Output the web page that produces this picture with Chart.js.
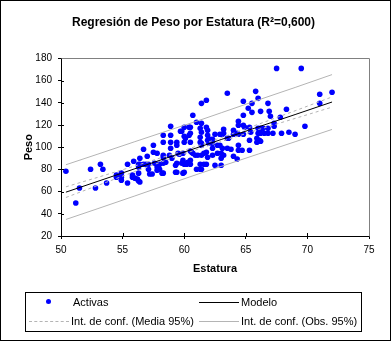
<!DOCTYPE html>
<html>
<head>
<meta charset="utf-8">
<script src="https://cdn.jsdelivr.net/npm/chart.js@4.4.1/dist/chart.umd.min.js"></script>
<style>
  html, body { margin: 0; padding: 0; background: #fff; }
  #wrap { position: relative; width: 391px; height: 341px; }
  #legend {
    position: absolute; left: 25px; top: 292px; width: 335px; height: 38px;
    border: 1px solid #000; font-family: "Liberation Sans", Arial, sans-serif; font-size: 11px;
  }
  #legend ul { list-style: none; margin: 0; padding: 0; }
</style>
</head>
<body>
<div id="wrap">
  <canvas id="reg-chart" width="391" height="341"></canvas>
  <div id="legend"><ul></ul></div>
</div>
<script>
// Observed points (Estatura, Peso)
const heights = [
  50.4, 51.5, 51.2, 52.4, 52.8, 53.2, 53.4, 53.7, 54.5, 54.5, 54.9, 54.9, 54.9, 55.4, 55.4, 55.8,
  55.8, 55.9, 56.0, 56.2, 56.3, 56.4, 56.3, 56.4, 56.3, 56.4, 56.3, 56.7, 56.7, 56.9, 57.1, 57.0,
  57.1, 57.2, 57.4, 57.5, 57.5, 57.8, 57.6, 57.8, 58.0, 57.8, 58.0, 58.3, 58.3, 58.3, 58.3, 58.3,
  58.4, 58.5, 58.8, 58.9, 58.9, 58.9, 58.9, 59.0, 59.3, 59.4, 59.3, 59.4, 59.4, 59.4, 59.5, 59.6,
  59.7, 59.8, 60.0, 59.9, 60.0, 60.0, 60.0, 60.1, 60.0, 59.8, 60.4, 60.4, 60.4, 58.3, 57.8, 57.9,
  58.2, 63.5, 65.8, 66.0, 61.8, 61.4, 64.8, 65.5, 66.8, 60.7, 61.0, 64.8, 65.2, 65.5, 66.2, 66.9,
  67.0, 67.8, 68.3, 60.5, 60.5, 61.4, 61.8, 61.9, 61.3, 61.4, 61.3, 60.5, 61.3, 61.4, 61.4, 61.9,
  61.9, 62.1, 62.3, 62.0, 62.3, 62.5, 62.9, 63.1, 63.2, 63.2, 63.5, 63.6, 64.0, 64.0, 64.3, 64.4,
  64.4, 64.4, 64.8, 64.9, 64.8, 65.3, 65.4, 65.3, 65.9, 66.1, 65.9, 66.2, 66.2, 66.4, 66.0, 66.2,
  66.5, 66.8, 66.8, 67.3, 67.3, 67.2, 67.9, 68.5, 69.0, 69.8, 59.9, 59.9, 60.0, 60.5, 60.6, 60.7,
  60.9, 60.5, 60.3, 60.5, 60.2, 61.0, 61.3, 61.4, 61.3, 61.6, 61.8, 61.1, 61.4, 61.6, 61.8, 61.9,
  62.3, 62.3, 62.5, 63.0, 62.7, 62.9, 63.1, 63.5, 63.8, 62.7, 63.0, 63.2, 63.0, 64.0, 64.3, 64.4,
  64.7, 65.3, 64.4, 67.5, 69.5, 71.0, 72.0, 71.0, 66.0,
];
const weights = [
  78.4, 63.2, 49.7, 80.2, 63.2, 84.7, 80.2, 67.7, 74.9, 73.0, 76.6, 73.0, 70.3, 84.7, 67.7, 74.9,
  73.0, 87.4, 72.1, 71.2, 69.5, 68.6, 84.7, 84.7, 82.1, 90.1, 76.6, 98.2, 84.7, 84.7, 84.7, 91.9,
  80.2, 75.8, 75.8, 101.8, 95.5, 94.6, 85.6, 84.7, 84.7, 79.3, 80.2, 110.7, 104.5, 92.8, 85.6, 76.6,
  86.5, 86.5, 92.8, 118.9, 110.7, 104.5, 99.1, 90.1, 83.8, 85.6, 77.5, 77.5, 104.5, 101.8, 94.6, 93.7,
  114.4, 85.6, 85.6, 76.6, 77.5, 117.9, 109.9, 108.1, 104.5, 114.4, 110.7, 117.9, 85.6, 91.0, 82.1, 81.1,
  76.6, 148.6, 150.3, 144.0, 142.3, 139.5, 141.4, 139.5, 139.5, 128.8, 122.5, 128.8, 135.1, 131.4, 132.3, 132.3,
  127.9, 127.0, 134.2, 117.9, 112.6, 121.6, 117.9, 115.3, 117.0, 113.5, 109.0, 104.5, 104.5, 103.5, 101.8, 110.7,
  106.3, 107.2, 107.2, 103.5, 103.5, 111.7, 111.7, 111.7, 116.2, 112.6, 108.1, 108.1, 115.3, 111.7, 112.6, 111.7,
  123.3, 119.8, 119.8, 117.9, 111.7, 117.9, 113.5, 106.3, 108.1, 106.3, 104.5, 105.4, 117.0, 117.0, 112.6, 112.6,
  112.6, 112.6, 117.0, 121.6, 118.9, 112.6, 112.6, 113.5, 111.7, 118.9, 94.6, 88.3, 84.7, 96.5, 95.5, 94.6,
  92.8, 88.3, 86.5, 84.7, 84.7, 80.2, 80.2, 80.2, 84.7, 84.7, 84.7, 92.8, 92.8, 94.6, 95.5, 91.0,
  92.8, 99.1, 83.8, 83.8, 101.8, 101.8, 99.1, 99.1, 98.2, 94.6, 94.6, 92.8, 90.1, 91.9, 89.3, 97.3,
  97.3, 97.3, 101.8, 171.0, 171.0, 147.7, 149.5, 139.5, 117.0,
];
// Fitted model and confidence bands
const fitX = [50.4, 53, 56, 59, 61.2, 63, 66, 69, 72];
const modelY = [59.5, 69.3, 80.6, 91.9, 100.1, 106.9, 118.2, 129.4, 140.7];
const mediaUpper = [64.3, 72.9, 83.1, 93.6, 101.6, 108.6, 120.6, 132.8, 145.3];
const mediaLower = [54.7, 65.6, 78.1, 90.2, 98.6, 105.1, 115.8, 125.9, 136.1];
const obsUpper = [84.2, 93.8, 105.0, 116.1, 124.1, 131.0, 142.5, 153.8, 165.4];
const obsLower = [34.9, 44.7, 56.1, 67.7, 76.1, 82.7, 93.8, 104.9, 116.0];

const FONT = '"Liberation Sans", Arial, sans-serif';
const GRAY = '#b4b4b4';

const toPoints = (xs, ys) => xs.map((x, i) => ({ x, y: ys[i] }));

const lineSet = (label, ys, color, dash, legend) => ({
  label,
  data: toPoints(fitX, ys),
  showLine: true,
  borderColor: color,
  backgroundColor: color,
  borderWidth: 1,
  borderDash: dash,
  pointRadius: 0,
  order: 1,
  inLegend: legend,
});

const ctx = document.getElementById('reg-chart');
// eslint-disable-next-line no-unused-vars
const chart = new Chart(ctx, {
  type: 'scatter',
  data: {
    datasets: [
      {
        label: 'Activas',
        data: toPoints(heights, weights),
        backgroundColor: '#0000ff',
        borderColor: '#0000ff',
        pointRadius: 2.8,
        pointBorderWidth: 0,
        order: 2,
        inLegend: true,
      },
      lineSet('Modelo', modelY, '#000', [], true),
      lineSet('Int. de conf. (Media 95%)', mediaUpper, GRAY, [3, 3], true),
      lineSet('Media inf', mediaLower, GRAY, [3, 3], false),
      lineSet('Int. de conf. (Obs. 95%)', obsUpper, GRAY, [], true),
      lineSet('Obs inf', obsLower, GRAY, [], false),
    ],
  },
  options: {
    responsive: false,
    animation: false,
    layout: {
      padding: { top: 0, left: 18, right: 22, bottom: 63 },
    },
    scales: {
      x: {
        min: 50,
        max: 75,
        grid: { drawOnChartArea: false, color: '#000', tickLength: 3 },
        border: { color: '#000' },
        ticks: { stepSize: 5, color: '#000', padding: 5, font: { family: FONT, size: 10 } },
        title: {
          display: true, text: 'Estatura', color: '#000',
          font: { family: FONT, size: 11, weight: 'bold' }, padding: { top: 0, bottom: 2 },
        },
        afterFit: (scale) => { scale.height = 42; },
      },
      y: {
        min: 20,
        max: 180,
        grid: { drawOnChartArea: false, color: '#000', tickLength: 3 },
        border: { color: '#000' },
        ticks: { stepSize: 20, color: '#000', padding: 6, font: { family: FONT, size: 10 } },
        title: {
          display: true, text: 'Peso', color: '#000',
          font: { family: FONT, size: 11, weight: 'bold' }, padding: { top: 4, bottom: 0 },
        },
        afterFit: (scale) => { scale.width = 43; },
      },
    },
    plugins: {
      legend: { display: false },
      tooltip: { enabled: false },
      title: {
        display: true,
        text: 'Regresión de Peso por Estatura (R²=0,600)',
        color: '#000',
        font: { family: FONT, size: 12, weight: 'bold' },
        padding: { top: 15, bottom: 29 },
      },
      htmlLegend: { containerID: 'legend' },
    },
  },
  plugins: [{
    id: 'htmlLegend',
    afterUpdate(c, args, options) {
      const ul = document.getElementById(options.containerID).querySelector('ul');
      while (ul.firstChild) ul.firstChild.remove();
      const cols = [3, 173];
      const rows = [2, 21];
      let n = 0;
      c.data.datasets.forEach((ds) => {
        if (!ds.inLegend) return;
        const li = document.createElement('li');
        li.style.position = 'absolute';
        li.style.left = `${cols[n % 2]}px`;
        li.style.top = `${rows[Math.floor(n / 2)]}px`;
        li.style.display = 'flex';
        li.style.alignItems = 'center';
        li.style.height = '14px';
        // Swatch
        const sw = document.createElement('span');
        sw.style.position = 'relative';
        sw.style.display = 'block';
        sw.style.width = '40px';
        sw.style.height = '14px';
        sw.style.marginRight = ds.showLine ? '2px' : '4px';
        const mark = document.createElement('span');
        mark.style.position = 'absolute';
        if (ds.showLine) {
          mark.style.left = '0';
          mark.style.right = '0';
          mark.style.top = '7px';
          mark.style.borderTop = `1px ${ds.borderDash.length ? 'dashed' : 'solid'} ${ds.borderColor}`;
        } else {
          mark.style.left = '17px';
          mark.style.top = '4px';
          mark.style.width = '5px';
          mark.style.height = '5px';
          mark.style.borderRadius = '50%';
          mark.style.background = ds.backgroundColor;
        }
        sw.appendChild(mark);
        const label = document.createElement('span');
        label.style.color = '#000';
        label.appendChild(document.createTextNode(ds.label));
        li.appendChild(sw);
        li.appendChild(label);
        ul.appendChild(li);
        n += 1;
      });
    },
    afterDraw(c) {
      const { ctx: g, chartArea: a } = c;
      const xAxis = c.scales.x;
      const yAxis = c.scales.y;
      g.save();
      g.lineWidth = 1;
      // Tick marks crossing into the plot area
      g.strokeStyle = '#000';
      g.beginPath();
      xAxis.ticks.forEach((t, i) => {
        const x = Math.round(xAxis.getPixelForTick(i)) + 0.5;
        g.moveTo(x, a.bottom);
        g.lineTo(x, a.bottom - 3);
      });
      yAxis.ticks.forEach((t, i) => {
        const y = Math.round(yAxis.getPixelForTick(i)) + 0.5;
        g.moveTo(a.left, y);
        g.lineTo(a.left + 3, y);
      });
      g.stroke();
      // Plot area frame: gray on top and right
      g.strokeStyle = '#808080';
      g.beginPath();
      g.moveTo(Math.round(a.left) + 0.5, Math.round(a.top) + 0.5);
      g.lineTo(Math.round(a.right) + 0.5, Math.round(a.top) + 0.5);
      g.lineTo(Math.round(a.right) + 0.5, Math.round(a.bottom) + 0.5);
      g.stroke();
      // Outer frame
      g.strokeStyle = '#000';
      g.strokeRect(0.5, 0.5, c.width - 1, c.height - 1);
      g.restore();
    },
  }],
});
</script>
</body>
</html>
